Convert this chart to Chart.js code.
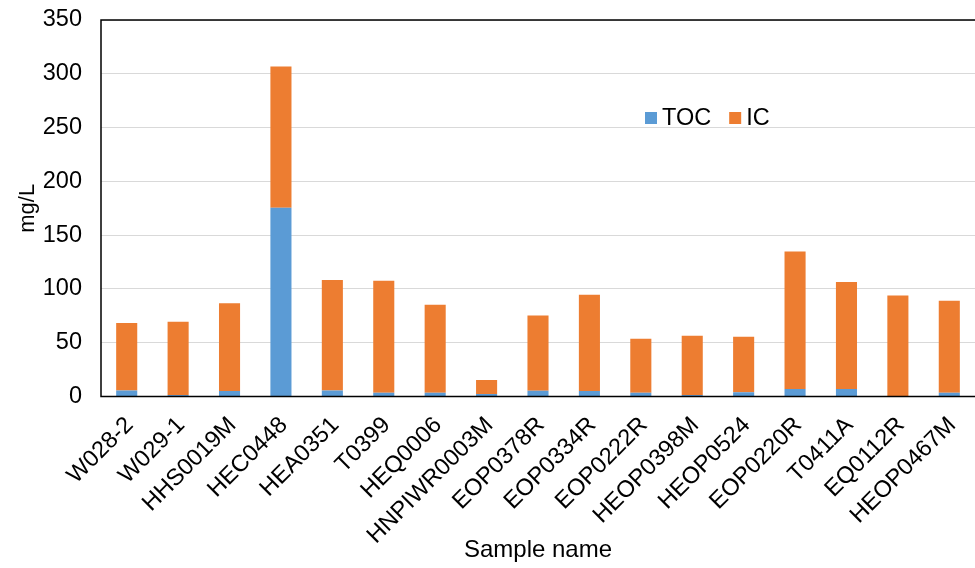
<!DOCTYPE html>
<html>
<head>
<meta charset="utf-8">
<script src="https://cdn.jsdelivr.net/npm/chart.js@4/dist/chart.umd.min.js"></script>
<style>
  html, body { margin: 0; padding: 0; background: #fff; }
  #wrap { width: 975px; height: 568px; position: relative; }
</style>
</head>
<body>
<div id="wrap"><canvas id="c" width="975" height="568"></canvas></div>
<script>
// Sample names along the x axis
const samples = ["W028-2", "W029-1", "HHS0019M", "HEC0448", "HEA0351", "T0399", "HEQ0006",
  "HNPIWR0003M", "EOP0378R", "EOP0334R", "EOP0222R", "HEOP0398M", "HEOP0524",
  "EOP0220R", "T0411A", "EQ0112R", "HEOP0467M"];

// Total organic carbon (mg/L)
const toc = [5.6, 1.5, 5.0, 175.4, 5.6, 3.5, 3.5, 2.3, 5.3, 5.0, 3.5, 1.5, 4.0, 7.0, 7.0, 0.5, 3.5];

// Inorganic carbon (mg/L), stacked on top of TOC
const ic = [62.7, 68.0, 81.6, 131.4, 102.8, 104.0, 81.9, 13.1, 70.1, 89.7, 50.1, 54.9, 51.5, 127.8, 99.5, 93.3, 85.6];

// Value axis ticks
const yTicks = [0, 50, 100, 150, 200, 250, 300, 350];

const FONT = "'Liberation Sans', Arial, sans-serif";

// Frame on the left, top and bottom of the plot area
const framePlugin = {
  id: 'frame',
  afterDatasetsDraw(chart) {
    const { ctx, chartArea: a } = chart;
    ctx.save();
    ctx.strokeStyle = '#000';
    ctx.lineWidth = 1.5;
    ctx.beginPath();
    ctx.moveTo(a.right, a.top);
    ctx.lineTo(a.left, a.top);
    ctx.lineTo(a.left, a.bottom);
    ctx.lineTo(a.right, a.bottom);
    ctx.stroke();
    ctx.restore();
  }
};

// Legend drawn inside the plot area
const innerLegend = {
  id: 'innerLegend',
  afterDraw(chart) {
    const { ctx } = chart;
    const items = chart.data.datasets;
    let x = 645;
    const y = 118;
    ctx.save();
    ctx.font = '23.5px ' + FONT;
    ctx.textBaseline = 'middle';
    items.forEach(ds => {
      ctx.fillStyle = ds.backgroundColor;
      ctx.fillRect(x, y - 6, 12, 12);
      ctx.fillStyle = '#000';
      ctx.fillText(ds.label, x + 17, y + 1);
      x += 17 + ctx.measureText(ds.label).width + 18;
    });
    ctx.restore();
  }
};

new Chart(document.getElementById('c'), {
  type: 'bar',
  data: {
    labels: samples,
    datasets: [
      { label: 'TOC', data: toc, backgroundColor: '#5B9BD5' },
      { label: 'IC', data: ic, backgroundColor: '#ED7D31' }
    ]
  },
  options: {
    responsive: false,
    animation: false,
    devicePixelRatio: 1,
    layout: { padding: { top: 20, right: 0, left: 0, bottom: 0 } },
    datasets: { bar: { categoryPercentage: 1.0, barPercentage: 0.41 } },
    plugins: {
      legend: { display: false },
      tooltip: { enabled: false }
    },
    scales: {
      x: {
        stacked: true,
        grid: { display: false, drawTicks: false },
        border: { display: false },
        ticks: {
          color: '#000',
          font: { family: FONT, size: 23.5 },
          minRotation: 45,
          maxRotation: 45,
          autoSkip: false,
          padding: 15,
          labelOffset: 3
        },
        title: {
          display: true,
          text: 'Sample name',
          color: '#000',
          font: { family: FONT, size: 24 },
          padding: { top: 0, bottom: 3 }
        },
        afterFit(scale) {
          scale.height = 171.5;
          scale.paddingLeft = 0;
          scale.paddingRight = 0;
        }
      },
      y: {
        stacked: true,
        min: 0,
        max: 350,
        afterBuildTicks(scale) {
          scale.ticks = yTicks.map(v => ({ value: v }));
        },
        grid: { color: '#D9D9D9', lineWidth: 1, drawTicks: false },
        border: { display: false },
        ticks: {
          color: '#000',
          font: { family: FONT, size: 23.5 },
          padding: 19
        },
        title: {
          display: true,
          text: 'mg/L',
          color: '#000',
          font: { family: FONT, size: 22 },
          padding: { top: 15, bottom: 0 }
        },
        afterFit(scale) {
          scale.width = 101;
          scale.paddingTop = 0;
          scale.paddingBottom = 0;
        }
      }
    }
  },
  plugins: [framePlugin, innerLegend]
});
</script>
</body>
</html>
